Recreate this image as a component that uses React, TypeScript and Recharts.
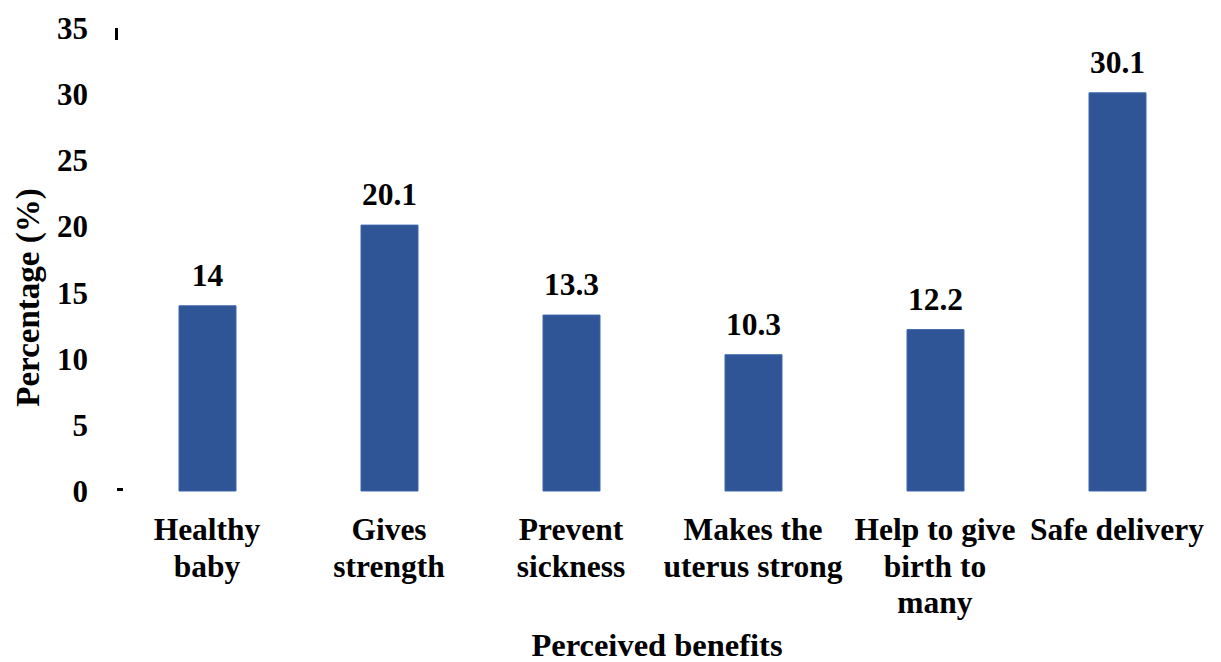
import React from 'react';
import { BarChart, Bar, XAxis, YAxis, LabelList } from 'recharts';

const categories = ['Healthy baby', 'Gives strength', 'Prevent sickness', 'Makes the uterus strong', 'Help to give birth to many', 'Safe delivery'];
const values = [14, 20.1, 13.3, 10.3, 12.2, 30.1];
const tickLines = [
  ['Healthy', 'baby'],
  ['Gives', 'strength'],
  ['Prevent', 'sickness'],
  ['Makes the', 'uterus strong'],
  ['Help to give', 'birth to', 'many'],
  ['Safe delivery'],
];
const yTicks = [0, 5, 10, 15, 20, 25, 30, 35];

const data = categories.map((c, i) => ({ name: c, value: values[i] }));

const FONT = "Times New Roman, Liberation Serif, Tinos, serif";

const CategoryTick = (props: any) => {
  const { x, y, payload } = props;
  const idx = categories.indexOf(payload.value);
  const lines = tickLines[idx] || [payload.value];
  return (
    <g>
      {lines.map((l, i) => (
        <text
          key={i}
          x={x}
          y={y + 47 + i * 36.5}
          textAnchor="middle"
          style={{ fontFamily: FONT, fontWeight: 700, fontSize: 31.5 }}
          fill="#000"
        >
          {l}
        </text>
      ))}
    </g>
  );
};

const ValueTick = (props: any) => {
  const { x, y, payload } = props;
  const ax = x + 28;
  return (
    <g>
      <text x={x} y={y} dy="0.355em" textAnchor="end" style={{ fontFamily: FONT, fontWeight: 700, fontSize: 31 }} fill="#000">
        {payload.value}
      </text>
      {payload.value === 35 ? <rect x={ax - 1} y={y} width={3} height={12} fill="#000" /> : null}
      {payload.value === 0 ? <rect x={ax + 1} y={y - 3} width={6} height={3} fill="#000" /> : null}
    </g>
  );
};

const YTitle = (props: any) => {
  const { viewBox } = props;
  const tx = viewBox.x + 39;
  const ty = viewBox.y + viewBox.height / 2 + 38;
  return (
    <text
      transform={`translate(${tx}, ${ty}) rotate(-90)`}
      textAnchor="middle"
      style={{ fontFamily: FONT, fontWeight: 700, fontSize: 33 }}
      fill="#000"
    >
      Percentage (%)
    </text>
  );
};

export default function App() {
  return (
    <div style={{ position: 'absolute', left: 0, top: 0, width: 1221, height: 662, background: '#fff', fontFamily: FONT }}>
      <BarChart width={1221} height={662} data={data} margin={{ top: 28, right: 13, left: 0, bottom: 0 }} style={{ fontFamily: FONT }}>
        <XAxis
          dataKey="name"
          axisLine={false}
          tickLine={false}
          tickSize={0}
          height={171}
          interval={0}
          tick={<CategoryTick />}
          label={{
            value: 'Perceived benefits',
            position: 'insideBottom',
            offset: 6,
            dx: -5,
            style: { fontFamily: FONT, fontWeight: 700, fontSize: 32.5, fill: '#000' },
          }}
        />
        <YAxis
          domain={[0, 35]}
          ticks={yTicks}
          axisLine={false}
          tickLine={false}
          tickSize={0}
          tickMargin={28}
          width={116}
          tick={<ValueTick />}
          label={<YTitle />}
        />
        <Bar dataKey="value" fill="#2F5597" stroke="#3D66AD" strokeWidth={1} barSize={57} isAnimationActive={false}>
          <LabelList
            dataKey="value"
            position="top"
            offset={20}
            style={{ fontFamily: FONT, fontWeight: 700, fontSize: 31.5, fill: '#000' }}
          />
        </Bar>
      </BarChart>
    </div>
  );
}
